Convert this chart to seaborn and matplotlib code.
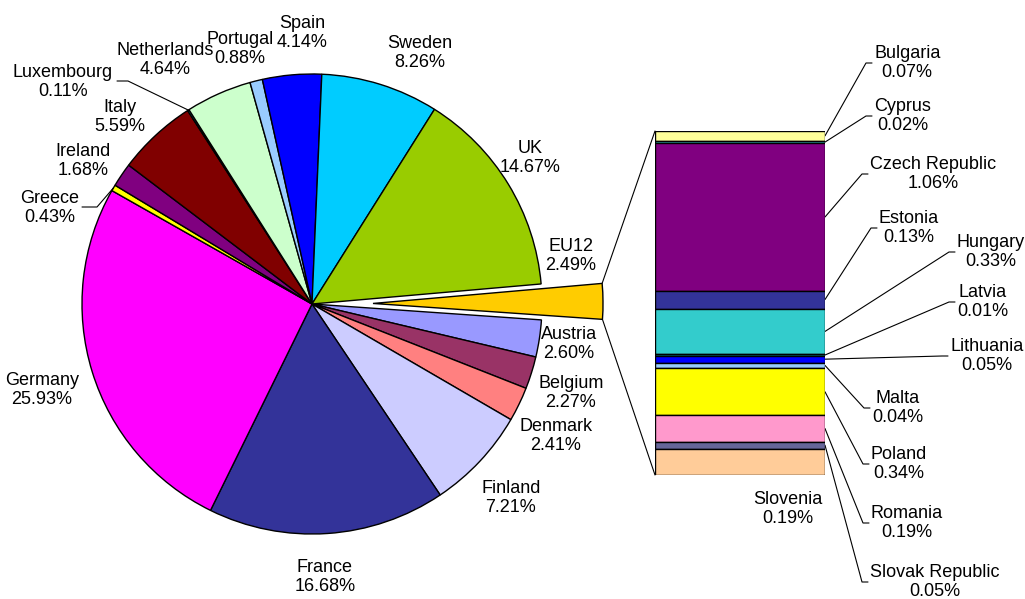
import matplotlib
matplotlib.use("Agg")
import matplotlib.pyplot as plt
from matplotlib.patches import ConnectionPatch
import numpy as np
import seaborn as sns

# --- data -------------------------------------------------------------
# pie: EU15 countries + the EU12 group (share of total, %), clockwise order
countries = ["EU12", "Austria", "Belgium", "Denmark", "Finland", "France",
             "Germany", "Greece", "Ireland", "Italy", "Luxembourg",
             "Netherlands", "Portugal", "Spain", "Sweden", "UK"]
shares = [2.49, 2.60, 2.27, 2.41, 7.21, 16.68, 25.93, 0.43, 1.68, 5.59,
          0.11, 4.64, 0.88, 4.14, 8.26, 14.67]
pie_colors = ["#FFCC00", "#9999FF", "#993366", "#FF8080", "#CCCCFF",
              "#333399", "#FF00FF", "#FFFF00", "#800080", "#800000",
              "#00FFFF", "#CCFFCC", "#99CCFF", "#0000FF", "#00CCFF",
              "#99CC00"]

# bar: breakdown of EU12 (top to bottom)
eu12_names = ["Bulgaria", "Cyprus", "Czech Republic", "Estonia", "Hungary",
              "Latvia", "Lithuania", "Malta", "Poland", "Romania",
              "Slovak Republic", "Slovenia"]
eu12_shares = [0.07, 0.02, 1.06, 0.13, 0.33, 0.01, 0.05, 0.04, 0.34, 0.19,
               0.05, 0.19]
eu12_colors = ["#FFFF99", "#33CCCC", "#800080", "#333399", "#33CCCC",
               "#008080", "#0000FF", "#99CCFF", "#FFFF00", "#FF99CC",
               "#666699", "#FFCC99"]

# --- layout (image pixels, y from top) --------------------------------
W, H = 1025, 599
PIE_CENTER = (312, 304)
PIE_RADIUS = 230
EU12_EXPLODE = 61
START_ANGLE = 5.0

pie_label_pos = {
    "EU12": (571, 256), "Austria": (569, 344), "Belgium": (571, 393),
    "Denmark": (556, 436), "Finland": (511, 498), "France": (325, 577),
    "Germany": (42, 390), "Greece": (50, 208), "Ireland": (83, 161),
    "Italy": (120, 117), "Luxembourg": (63, 82), "Netherlands": (165, 60),
    "Portugal": (240, 49), "Spain": (302, 33), "Sweden": (420, 53),
    "UK": (530, 158),
}
# labels with a leader line: (hook start x, hook end x)
pie_leaders = {"Luxembourg": (117, 128), "Greece": (82, 97)}

BAR_BOX = (655, 131, 825, 475)  # left, top, right, bottom
bar_label_pos = {
    "Bulgaria": (874, 63), "Cyprus": (874, 116), "Czech Republic": (870, 174),
    "Estonia": (879, 228), "Hungary": (957, 252), "Latvia": (957, 302),
    "Lithuania": (950, 356), "Malta": (872, 408), "Poland": (871, 464),
    "Romania": (871, 523), "Slovak Republic": (870, 582),
}
slovenia_pos = (788, 509)


def px(x, y):
    return x, H - y


sns.set_theme(style="white")
plt.rcParams["font.family"] = ["Liberation Sans", "DejaVu Sans"]
plt.rcParams["text.color"] = "black"
FS = 13

fig = plt.figure(figsize=(W / 100, H / 100), dpi=100)
ax = fig.add_axes([0, 0, 1, 1])

explode = [EU12_EXPLODE if c == "EU12" else 0 for c in countries]
wedges, _ = ax.pie(shares, colors=pie_colors, explode=explode,
                   startangle=START_ANGLE, counterclock=False,
                   radius=PIE_RADIUS, center=px(*PIE_CENTER),
                   labeldistance=None,
                   wedgeprops=dict(edgecolor="black", linewidth=1.0))
ax.set_xlim(0, W)
ax.set_ylim(0, H)
ax.axis("off")

# pie labels
for name, val, w in zip(countries, shares, wedges):
    lx, ly = pie_label_pos[name]
    ax.text(*px(lx, ly), f"{name}\n{val:.2f}%", ha="center", va="center",
            fontsize=FS, color="black", linespacing=1.2)
    if name in pie_leaders:
        hx0, hx1 = pie_leaders[name]
        mid = np.deg2rad((w.theta1 + w.theta2) / 2)
        ex = w.center[0] + w.r * np.cos(mid)
        ey = w.center[1] + w.r * np.sin(mid)
        hy = H - (ly - 1)
        ax.plot([hx0, hx1, ex], [hy, hy, ey], color="black", lw=0.8)

# stacked bar for EU12
bl, bt, br, bb = BAR_BOX
bax = fig.add_axes([bl / W, (H - bb) / H, (br - bl) / W, (bb - bt) / H])
total = sum(eu12_shares)
bottoms = np.concatenate([[0], np.cumsum(eu12_shares)[:-1]])
bax.bar(0, eu12_shares, bottom=bottoms, width=1.0, color=eu12_colors,
        edgecolor="black", linewidth=1.0)
bax.set_xlim(-0.5, 0.5)
bax.set_ylim(total, 0)
bax.axis("off")

to_px = lambda p: ax.transData.inverted().transform(bax.transData.transform(p))

for name, val, b in zip(eu12_names, eu12_shares, bottoms):
    if name in bar_label_pos:
        tx, ty = bar_label_pos[name]
        sx, sy = to_px((0.5, b + val / 2))
        ax.plot([sx, tx - 8, tx - 2], [sy, H - ty, H - ty],
                color="black", lw=0.8)
        ax.text(*px(tx, ty), f"{name}\n{val:.2f}%", ha="left", va="center",
                multialignment="center", fontsize=FS, color="black",
                linespacing=1.2)
    else:
        ax.text(*px(*slovenia_pos), f"{name}\n{val:.2f}%", ha="center",
                va="center", fontsize=FS, color="black", linespacing=1.2)

# connectors from the exploded EU12 wedge to the bar
w = wedges[0]
for ang, yb in [(w.theta2, 0), (w.theta1, total)]:
    a = np.deg2rad(ang)
    tip = (w.center[0] + w.r * np.cos(a), w.center[1] + w.r * np.sin(a))
    con = ConnectionPatch(xyA=tip, coordsA=ax.transData,
                          xyB=(-0.5, yb), coordsB=bax.transData,
                          color="black", lw=0.8)
    fig.add_artist(con)

fig.savefig("out.png", dpi=100)
plt.close(fig)
